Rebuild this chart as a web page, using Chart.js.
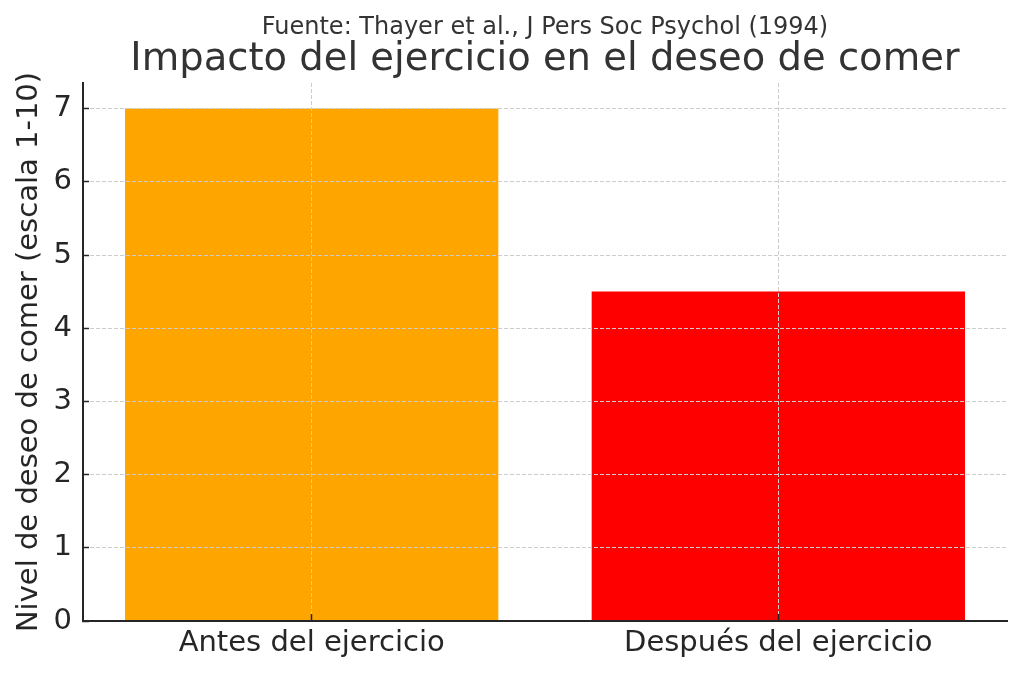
<!DOCTYPE html>
<html>
<head>
<meta charset="utf-8">
<script src="https://cdn.jsdelivr.net/npm/chart.js@4/dist/chart.umd.min.js"></script>
<style>
  html, body { margin: 0; padding: 0; background: #fff; }
  #chart { display: block; }
</style>
</head>
<body>
<canvas id="chart" width="1024" height="677"></canvas>
<script>
// data
const categories = ['Antes del ejercicio', 'Después del ejercicio'];
const deseoValues = [7, 4.5];
const barColors = ['#FFA500', '#FF0000'];
const yTicks = [0, 1, 2, 3, 4, 5, 6, 7];

const chartTitle = 'Impacto del ejercicio en el deseo de comer';
const sourceNote = 'Fuente: Thayer et al., J Pers Soc Psychol (1994)';
const yAxisTitle = 'Nivel de deseo de comer (escala 1-10)';

const FONT = "'DejaVu Sans', sans-serif";
const gridColor = '#cccccc';
const axisColor = '#262626';

document.addEventListener('DOMContentLoaded', function() {
    const ctx = document.getElementById('chart').getContext('2d');

    // bars sit at positions 0 and 1 on a numeric x axis, labelled with the categories
    const points = deseoValues.map((v, i) => ({ x: i, y: v }));

    new Chart(ctx, {
        type: 'bar',
        data: {
            datasets: [{
                data: points,
                backgroundColor: barColors,
                borderWidth: 0,
                barPercentage: 0.8,
                categoryPercentage: 1.0
            }]
        },
        options: {
            responsive: false,
            animation: false,
            devicePixelRatio: 1,
            layout: { padding: { top: 14, right: 17, bottom: 0, left: 0 } },
            plugins: {
                legend: { display: false },
                tooltip: { enabled: false },
                subtitle: {
                    display: true,
                    text: sourceNote,
                    color: '#333333',
                    font: { family: FONT, size: 24, weight: 'normal', lineHeight: 1.0 },
                    padding: { top: 2, bottom: 0 },
                    fullSize: false,
                    weight: 2500
                },
                title: {
                    display: true,
                    text: chartTitle,
                    color: '#333333',
                    font: { family: FONT, size: 38.5, weight: 'normal', lineHeight: 1.0 },
                    padding: { top: 1, bottom: 3.5 },
                    fullSize: false,
                    weight: 2000
                }
            },
            scales: {
                x: {
                    type: 'linear',
                    min: -0.49,
                    max: 1.49,
                    offset: false,
                    grid: {
                        offset: false,
                        color: gridColor,
                        lineWidth: 1,
                        drawTicks: true,
                        tickLength: -7,
                        tickColor: axisColor,
                        tickWidth: 1.5,
                        tickBorderDash: [],
                        z: 1
                    },
                    border: { display: true, color: axisColor, width: 2, dash: [4, 2], z: 2 },
                    ticks: {
                        color: '#262626',
                        font: { family: FONT, size: 29 },
                        padding: 12,
                        maxRotation: 0,
                        callback: function(value) { return categories[value]; }
                    },
                    afterBuildTicks: function(scale) {
                        scale.ticks = categories.map((c, i) => ({ value: i }));
                    },
                    afterFit: function(scale) { scale.height = 56; }
                },
                y: {
                    min: 0,
                    max: 7.35,
                    grid: {
                        color: gridColor,
                        lineWidth: 1,
                        drawTicks: true,
                        tickLength: -6,
                        tickColor: axisColor,
                        tickWidth: 1.5,
                        tickBorderDash: [],
                        z: 1
                    },
                    border: { display: true, color: axisColor, width: 2, dash: [4, 2], z: 2 },
                    ticks: {
                        stepSize: 1,
                        color: '#262626',
                        font: { family: FONT, size: 29 },
                        padding: 17
                    },
                    afterBuildTicks: function(scale) {
                        scale.ticks = yTicks.map(v => ({ value: v }));
                    },
                    title: {
                        display: true,
                        text: yAxisTitle,
                        color: '#262626',
                        font: { family: FONT, size: 29, lineHeight: 1.2 },
                        padding: { top: 12, bottom: 0 }
                    },
                    afterFit: function(scale) { scale.width = 83; }
                }
            }
        }
    });
});
</script>
</body>
</html>
